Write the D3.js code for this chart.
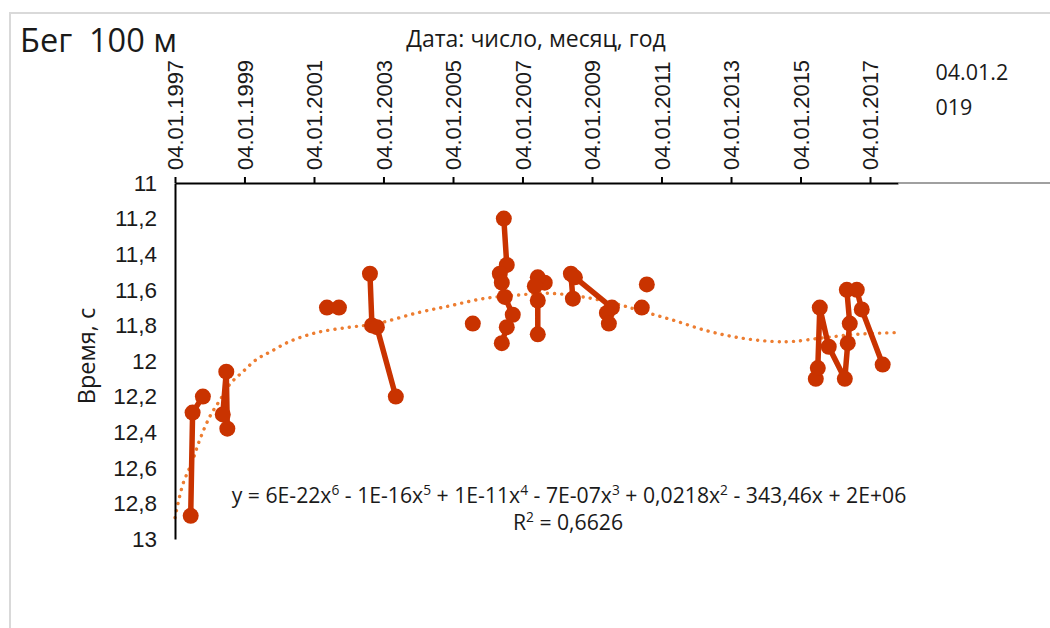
<!DOCTYPE html>
<html><head><meta charset="utf-8">
<script src="https://cdn.jsdelivr.net/npm/d3@7"></script>
<style>
html,body{margin:0;padding:0;background:#fff;}
svg{display:block;font-family:"Open Sans","Noto Sans",sans-serif;}
text{white-space:pre;}
</style></head><body>
<svg id="chart" width="1050" height="628"></svg>
<script>
// ---------- data ----------
const chartTitle = "Бег  100 м";
const xAxisTitle = "Дата: число, месяц, год";
const yAxisTitle = "Время, с";
const xTickLabels = ["04.01.1997","04.01.1999","04.01.2001","04.01.2003","04.01.2005","04.01.2007",
                     "04.01.2009","04.01.2011","04.01.2013","04.01.2015","04.01.2017","04.01.2019"];
const yTickValues = [11, 11.2, 11.4, 11.6, 11.8, 12, 12.2, 12.4, 12.6, 12.8, 13];
const xDomain = ["1997-01-04", "2017-10-25"];
const yDomain = [11, 13];

// results (null = gap between connected runs)
const runDates = [
  "1997-06-18","1997-07-08","1997-10-24", null,
  "1998-05-21","1998-06-27","1998-07-08", null,
  "2001-05-20","2001-09-23", null,
  "2002-08-15","2002-09-05","2002-10-27","2003-05-14", null,
  "2005-07-31", null,
  "2006-06-22","2006-07-23","2006-05-11","2006-06-01","2006-07-02","2006-09-24","2006-07-23","2006-06-01", null,
  "2007-08-26","2007-06-14","2007-05-14","2007-06-14","2007-06-14", null,
  "2008-06-17","2008-05-27","2008-07-08","2009-08-01","2009-06-09","2009-06-30", null,
  "2010-08-03", null,
  "2010-06-11", null,
  "2015-06-14","2015-07-05","2015-07-26","2015-10-28","2016-04-14","2016-05-15","2016-06-05","2016-05-05","2016-08-18","2016-10-09","2017-05-17"
];
const runTimes = [
  12.87, 12.29, 12.20, null,
  12.30, 12.06, 12.38, null,
  11.70, 11.70, null,
  11.51, 11.80, 11.81, 12.20, null,
  11.79, null,
  11.20, 11.46, 11.51, 11.56, 11.64, 11.74, 11.81, 11.90, null,
  11.56, 11.53, 11.58, 11.66, 11.85, null,
  11.65, 11.51, 11.53, 11.70, 11.73, 11.79, null,
  11.57, null,
  11.70, null,
  12.10, 12.04, 11.70, 11.92, 12.10, 11.90, 11.79, 11.60, 11.60, 11.71, 12.02
];

// polynomial trendline
const trendDates = ["1997-01-04","1997-03-29","1997-07-01","1997-09-23","1998-01-07","1998-04-21","1998-08-04",
  "1998-12-18","1999-05-14","1999-09-28","2000-04-25","2001-02-04","2002-01-17","2002-10-27","2003-12-21",
  "2004-12-02","2005-11-14","2006-11-06","2007-10-18","2008-09-30","2009-09-22","2010-06-11","2011-05-03",
  "2012-04-25","2013-04-06","2014-03-20","2014-10-16","2015-08-27","2016-08-18","2017-10-14"];
const trendTimes = [12.88,12.69,12.57,12.44,12.31,12.22,12.13,12.06,11.99,11.95,11.89,11.84,11.81,11.79,11.73,
  11.69,11.65,11.63,11.62,11.64,11.68,11.72,11.77,11.83,11.87,11.89,11.89,11.87,11.85,11.84];
const eqTerms = [["y = 6E-22x","6"],[" - 1E-16x","5"],[" + 1E-11x","4"],[" - 7E-07x","3"],[" + 0,0218x","2"],[" - 343,46x + 2E+06",""]];
const r2Terms = [["R","2"],[" = 0,6626",""]];

// ---------- drawing ----------
const W = 1050, H = 628;
const plot = {left:175, right:898, top:183, bottom:539};
const seriesColor = "#C93300", trendColor = "#ED7D31", textColor = "#1a1a1a";
const svg = d3.select("#chart");
const parseISO = d3.timeParse("%Y-%m-%d");
const parseRu = d3.timeParse("%d.%m.%Y");
const ru = d3.formatLocale({decimal:",", thousands:" ", grouping:[3], currency:["",""]});
const fmtY = ru.format(".3~g");

const x = d3.scaleTime().domain(xDomain.map(parseISO)).range([plot.left, plot.right]);
const y = d3.scaleLinear().domain(yDomain).range([plot.top, plot.bottom]);

// chart border
svg.append("rect").attr("x",10).attr("y",13).attr("width",1100).attr("height",700)
  .attr("fill","none").attr("stroke","#d9d9d9").attr("stroke-width",2);

// title
svg.append("text").attr("x",20).attr("y",52).attr("font-size",32.5).attr("fill",textColor).text(chartTitle);
// x axis title
svg.append("text").attr("x",536).attr("y",47).attr("text-anchor","middle").attr("font-size",23).attr("fill",textColor).text(xAxisTitle);
// y axis title
svg.append("text").attr("transform","translate(95,356) rotate(-90)").attr("text-anchor","middle")
  .attr("font-size",23.5).attr("fill",textColor).text(yAxisTitle);

// trendline
const pts = trendDates.map((d,i)=>({d:parseISO(d), t:trendTimes[i]}));
svg.append("path").datum(pts)
  .attr("d", d3.line().x(p=>x(p.d)).y(p=>y(p.t)).curve(d3.curveCatmullRom))
  .attr("fill","none").attr("stroke",trendColor).attr("stroke-width",3.4)
  .attr("stroke-linecap","round").attr("stroke-dasharray","0.1 7.1");

// x axis (top)
const xTicks = xTickLabels.map(parseRu);
const inDomain = xTicks.filter(d => d <= x.domain()[1]);
const outDomain = xTickLabels.filter((s,i) => xTicks[i] > x.domain()[1]);
const xAxis = d3.axisTop(x).tickValues(inDomain).tickSize(6).tickSizeOuter(0).tickFormat(d3.timeFormat("%d.%m.%Y"));
const gx = svg.append("g").attr("transform",`translate(0,${plot.top})`).call(xAxis);
gx.select(".domain").attr("stroke","#000").attr("stroke-width",2);
gx.selectAll(".tick line").attr("stroke","#000").attr("stroke-width",2);
gx.selectAll(".tick text").attr("font-size",22).attr("font-family",null).attr("fill",textColor)
  .attr("transform","translate(0,-13) rotate(-90)").attr("text-anchor","start")
  .attr("x",0).attr("y",0).attr("dy","0.35em");
// continuation of axis line
svg.append("line").attr("x1",plot.right).attr("x2",W).attr("y1",plot.top).attr("y2",plot.top)
  .attr("stroke","#808080").attr("stroke-width",1.5);
// labels beyond the axis end: wrapped horizontally
outDomain.forEach(s => {
  const t = svg.append("text").attr("font-size",21.5).attr("fill",textColor);
  const px = x(parseRu(s)) - 4;
  t.append("tspan").attr("x",px).attr("y",80).text(s.slice(0,7));
  t.append("tspan").attr("x",px).attr("y",115).text(s.slice(7));
});

// y axis
const yAxis = d3.axisLeft(y).tickValues(yTickValues).tickSize(0).tickPadding(18).tickFormat(fmtY);
const gy = svg.append("g").attr("transform",`translate(${plot.left},0)`).call(yAxis);
gy.select(".domain").attr("stroke","#000").attr("stroke-width",2);
gy.selectAll(".tick text").attr("font-size",22.5).attr("font-family",null).attr("fill",textColor);

// series
const run = runDates.map((d,i)=>({d: d ? parseISO(d) : null, t: runTimes[i]}));
svg.append("path").datum(run)
  .attr("d", d3.line().defined(p=>p.d!==null && p.t!==null).x(p=>x(p.d)).y(p=>y(p.t)))
  .attr("fill","none").attr("stroke",seriesColor).attr("stroke-width",5.5).attr("stroke-linejoin","round");
svg.append("g").selectAll("circle").data(run.filter(p=>p.d!==null)).join("circle")
  .attr("cx",p=>x(p.d)).attr("cy",p=>y(p.t)).attr("r",8).attr("fill",seriesColor);

// equation
function supText(terms, cx, baseY, fs){
  const t = svg.append("text").attr("x",cx).attr("y",baseY).attr("text-anchor","middle")
    .attr("font-size",fs).attr("fill",textColor);
  let pending = 0;
  const shift = fs*0.38;
  terms.forEach(([base,sup])=>{
    t.append("tspan").attr("dy",pending).text(base);
    pending = 0;
    if (sup){
      t.append("tspan").attr("font-size",fs*0.65).attr("dy",-shift).text(sup);
      pending = shift;
    }
  });
  return t;
}
supText(eqTerms, 569, 503, 21.2);
supText(r2Terms, 568, 530, 21.2);
</script>
</body></html>
